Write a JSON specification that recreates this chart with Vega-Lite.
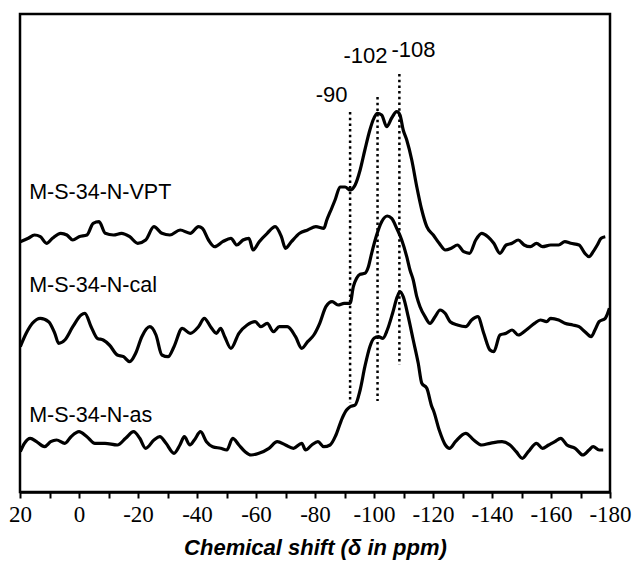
{
  "$schema": "https://vega.github.io/schema/vega-lite/v6.json",
  "width": 590,
  "height": 478,
  "autosize": {"type": "none"},
  "padding": {"left": 20, "top": 14, "right": 22, "bottom": 71},
  "background": "white",
  "config": {
    "view": {"stroke": "black", "strokeWidth": 2.5},
    "axis": {"grid": false}
  },
  "datasets": {
    "spectra": [
      {"s":"VPT","ppm":19.9,"v":250.3},{"s":"VPT","ppm":17.2,"v":253.7},{"s":"VPT","ppm":15.1,"v":257},{"s":"VPT","ppm":13.1,"v":255.3},{"s":"VPT","ppm":11.0,"v":248.7},{"s":"VPT","ppm":9.0,"v":253.7},{"s":"VPT","ppm":6.2,"v":258.7},{"s":"VPT","ppm":4.1,"v":257},{"s":"VPT","ppm":2.1,"v":252},{"s":"VPT","ppm":0.0,"v":255.3},{"s":"VPT","ppm":-2.7,"v":257},{"s":"VPT","ppm":-4.8,"v":268.7},{"s":"VPT","ppm":-6.8,"v":270.3},{"s":"VPT","ppm":-8.9,"v":258.7},{"s":"VPT","ppm":-11.7,"v":257},{"s":"VPT","ppm":-14.4,"v":258.7},{"s":"VPT","ppm":-17.2,"v":255.3},{"s":"VPT","ppm":-19.9,"v":248.7},{"s":"VPT","ppm":-22.6,"v":252},{"s":"VPT","ppm":-25.4,"v":265.3},{"s":"VPT","ppm":-28.1,"v":258.7},{"s":"VPT","ppm":-30.8,"v":257},{"s":"VPT","ppm":-34.3,"v":262},{"s":"VPT","ppm":-37.7,"v":258.7},{"s":"VPT","ppm":-40.5,"v":265.3},{"s":"VPT","ppm":-41.8,"v":263.7},{"s":"VPT","ppm":-43.9,"v":252},{"s":"VPT","ppm":-46.0,"v":245.3},{"s":"VPT","ppm":-48.7,"v":250.3},{"s":"VPT","ppm":-51.5,"v":253.7},{"s":"VPT","ppm":-53.5,"v":247},{"s":"VPT","ppm":-55.6,"v":252},{"s":"VPT","ppm":-57.6,"v":253.7},{"s":"VPT","ppm":-59.0,"v":242},{"s":"VPT","ppm":-61.1,"v":250.3},{"s":"VPT","ppm":-63.8,"v":258.7},{"s":"VPT","ppm":-66.5,"v":265.3},{"s":"VPT","ppm":-68.6,"v":255.3},{"s":"VPT","ppm":-70.0,"v":243.7},{"s":"VPT","ppm":-72.0,"v":250.3},{"s":"VPT","ppm":-74.8,"v":258.7},{"s":"VPT","ppm":-77.5,"v":262},{"s":"VPT","ppm":-80.3,"v":265.3},{"s":"VPT","ppm":-83.0,"v":263.7},{"s":"VPT","ppm":-84.0,"v":272},{"s":"VPT","ppm":-85.7,"v":284},{"s":"VPT","ppm":-86.8,"v":292},{"s":"VPT","ppm":-88.5,"v":305},{"s":"VPT","ppm":-90.2,"v":305},{"s":"VPT","ppm":-91.9,"v":302},{"s":"VPT","ppm":-93.6,"v":307},{"s":"VPT","ppm":-95.3,"v":322},{"s":"VPT","ppm":-96.9,"v":342},{"s":"VPT","ppm":-98.6,"v":362},{"s":"VPT","ppm":-99.7,"v":372},{"s":"VPT","ppm":-101.1,"v":378.7},{"s":"VPT","ppm":-102.6,"v":377},{"s":"VPT","ppm":-104.3,"v":365.3},{"s":"VPT","ppm":-106.0,"v":374},{"s":"VPT","ppm":-107.7,"v":380.3},{"s":"VPT","ppm":-108.8,"v":377},{"s":"VPT","ppm":-109.9,"v":362},{"s":"VPT","ppm":-111.1,"v":352},{"s":"VPT","ppm":-112.8,"v":332},{"s":"VPT","ppm":-114.5,"v":305.3},{"s":"VPT","ppm":-116.2,"v":282},{"s":"VPT","ppm":-117.9,"v":265.3},{"s":"VPT","ppm":-120.1,"v":257},{"s":"VPT","ppm":-122.1,"v":248.7},{"s":"VPT","ppm":-124.2,"v":242},{"s":"VPT","ppm":-126.2,"v":243.7},{"s":"VPT","ppm":-128.3,"v":247},{"s":"VPT","ppm":-130.4,"v":240.3},{"s":"VPT","ppm":-132.4,"v":238.7},{"s":"VPT","ppm":-134.5,"v":252},{"s":"VPT","ppm":-136.5,"v":258.7},{"s":"VPT","ppm":-138.6,"v":255.3},{"s":"VPT","ppm":-140.6,"v":248.7},{"s":"VPT","ppm":-142.7,"v":238.7},{"s":"VPT","ppm":-144.8,"v":247},{"s":"VPT","ppm":-146.8,"v":248.7},{"s":"VPT","ppm":-148.9,"v":252},{"s":"VPT","ppm":-150.9,"v":247},{"s":"VPT","ppm":-153.0,"v":245.3},{"s":"VPT","ppm":-155.1,"v":248.7},{"s":"VPT","ppm":-157.1,"v":245.3},{"s":"VPT","ppm":-159.9,"v":247},{"s":"VPT","ppm":-162.6,"v":247},{"s":"VPT","ppm":-164.7,"v":250.3},{"s":"VPT","ppm":-166.7,"v":248.7},{"s":"VPT","ppm":-169.5,"v":247},{"s":"VPT","ppm":-171.5,"v":238.7},{"s":"VPT","ppm":-172.9,"v":235.3},{"s":"VPT","ppm":-174.3,"v":240.3},{"s":"VPT","ppm":-175.7,"v":247},{"s":"VPT","ppm":-177.0,"v":253.7},{"s":"VPT","ppm":-178.4,"v":255.3},
      {"s":"cal","ppm":19.9,"v":145.3},{"s":"cal","ppm":17.9,"v":158.7},{"s":"cal","ppm":15.8,"v":168.7},{"s":"cal","ppm":13.1,"v":173.7},{"s":"cal","ppm":10.3,"v":170.3},{"s":"cal","ppm":8.2,"v":158.7},{"s":"cal","ppm":6.9,"v":148.7},{"s":"cal","ppm":4.8,"v":152},{"s":"cal","ppm":2.1,"v":165.3},{"s":"cal","ppm":-0.7,"v":177},{"s":"cal","ppm":-2.0,"v":178.7},{"s":"cal","ppm":-4.1,"v":165.3},{"s":"cal","ppm":-6.2,"v":153.7},{"s":"cal","ppm":-8.2,"v":152},{"s":"cal","ppm":-10.3,"v":147},{"s":"cal","ppm":-13.0,"v":137},{"s":"cal","ppm":-15.1,"v":135.3},{"s":"cal","ppm":-17.2,"v":130.3},{"s":"cal","ppm":-19.2,"v":138.7},{"s":"cal","ppm":-21.3,"v":155.3},{"s":"cal","ppm":-24.0,"v":165.3},{"s":"cal","ppm":-26.1,"v":157},{"s":"cal","ppm":-28.1,"v":137},{"s":"cal","ppm":-30.2,"v":135.3},{"s":"cal","ppm":-32.2,"v":145.3},{"s":"cal","ppm":-35.0,"v":163.7},{"s":"cal","ppm":-37.7,"v":158.7},{"s":"cal","ppm":-40.5,"v":165.3},{"s":"cal","ppm":-42.5,"v":173.7},{"s":"cal","ppm":-44.6,"v":165.3},{"s":"cal","ppm":-46.6,"v":158.7},{"s":"cal","ppm":-48.0,"v":163.7},{"s":"cal","ppm":-49.4,"v":155.3},{"s":"cal","ppm":-51.5,"v":143.7},{"s":"cal","ppm":-54.2,"v":158.7},{"s":"cal","ppm":-57.0,"v":167},{"s":"cal","ppm":-59.7,"v":170.3},{"s":"cal","ppm":-61.7,"v":165.3},{"s":"cal","ppm":-63.8,"v":168.7},{"s":"cal","ppm":-65.9,"v":160.3},{"s":"cal","ppm":-67.9,"v":165.3},{"s":"cal","ppm":-70.6,"v":165.3},{"s":"cal","ppm":-73.4,"v":155.3},{"s":"cal","ppm":-75.5,"v":143.7},{"s":"cal","ppm":-77.5,"v":150.3},{"s":"cal","ppm":-79.6,"v":157},{"s":"cal","ppm":-81.6,"v":168.7},{"s":"cal","ppm":-83.7,"v":185.3},{"s":"cal","ppm":-85.8,"v":190.3},{"s":"cal","ppm":-87.8,"v":187},{"s":"cal","ppm":-89.9,"v":188.7},{"s":"cal","ppm":-91.9,"v":188.7},{"s":"cal","ppm":-93.0,"v":205.3},{"s":"cal","ppm":-94.1,"v":213.7},{"s":"cal","ppm":-95.3,"v":217.7},{"s":"cal","ppm":-96.9,"v":218.7},{"s":"cal","ppm":-98.1,"v":225.3},{"s":"cal","ppm":-99.2,"v":238.7},{"s":"cal","ppm":-100.9,"v":257},{"s":"cal","ppm":-102.6,"v":270.3},{"s":"cal","ppm":-104.5,"v":276},{"s":"cal","ppm":-106.0,"v":273.7},{"s":"cal","ppm":-107.7,"v":263.7},{"s":"cal","ppm":-109.4,"v":252},{"s":"cal","ppm":-111.1,"v":235.3},{"s":"cal","ppm":-112.2,"v":222},{"s":"cal","ppm":-113.3,"v":212},{"s":"cal","ppm":-114.5,"v":195.3},{"s":"cal","ppm":-115.6,"v":185.3},{"s":"cal","ppm":-117.3,"v":175.3},{"s":"cal","ppm":-119.0,"v":168.7},{"s":"cal","ppm":-120.7,"v":175.3},{"s":"cal","ppm":-122.4,"v":182},{"s":"cal","ppm":-124.1,"v":178.7},{"s":"cal","ppm":-125.8,"v":170.3},{"s":"cal","ppm":-128.3,"v":167},{"s":"cal","ppm":-131.1,"v":165.3},{"s":"cal","ppm":-133.1,"v":172},{"s":"cal","ppm":-135.2,"v":175.3},{"s":"cal","ppm":-137.2,"v":158.7},{"s":"cal","ppm":-139.3,"v":142},{"s":"cal","ppm":-140.6,"v":140.3},{"s":"cal","ppm":-142.7,"v":157},{"s":"cal","ppm":-144.8,"v":158.7},{"s":"cal","ppm":-146.8,"v":162},{"s":"cal","ppm":-148.9,"v":157},{"s":"cal","ppm":-151.6,"v":162},{"s":"cal","ppm":-154.4,"v":168.7},{"s":"cal","ppm":-156.4,"v":172},{"s":"cal","ppm":-158.5,"v":170.3},{"s":"cal","ppm":-159.9,"v":173.7},{"s":"cal","ppm":-162.6,"v":172},{"s":"cal","ppm":-164.7,"v":168.7},{"s":"cal","ppm":-167.4,"v":167},{"s":"cal","ppm":-169.5,"v":165.3},{"s":"cal","ppm":-171.5,"v":160.3},{"s":"cal","ppm":-173.6,"v":155.3},{"s":"cal","ppm":-174.9,"v":162},{"s":"cal","ppm":-176.3,"v":170.3},{"s":"cal","ppm":-178.4,"v":173.7},{"s":"cal","ppm":-179.8,"v":183.7},
      {"s":"as","ppm":19.9,"v":40.3},{"s":"as","ppm":18.5,"v":48.7},{"s":"as","ppm":16.5,"v":53.7},{"s":"as","ppm":14.4,"v":50.3},{"s":"as","ppm":11.7,"v":45.3},{"s":"as","ppm":9.6,"v":50.3},{"s":"as","ppm":7.6,"v":52},{"s":"as","ppm":4.8,"v":48.7},{"s":"as","ppm":2.7,"v":55.3},{"s":"as","ppm":0.0,"v":60.3},{"s":"as","ppm":-2.7,"v":55.3},{"s":"as","ppm":-5.4,"v":48.7},{"s":"as","ppm":-8.8,"v":48.7},{"s":"as","ppm":-13.0,"v":47},{"s":"as","ppm":-15.8,"v":53.7},{"s":"as","ppm":-18.5,"v":60.3},{"s":"as","ppm":-20.6,"v":53.7},{"s":"as","ppm":-22.6,"v":43.7},{"s":"as","ppm":-25.4,"v":52},{"s":"as","ppm":-27.4,"v":55.3},{"s":"as","ppm":-29.5,"v":48.7},{"s":"as","ppm":-32.2,"v":38.7},{"s":"as","ppm":-34.2,"v":47},{"s":"as","ppm":-35.7,"v":55.3},{"s":"as","ppm":-37.6,"v":47},{"s":"as","ppm":-39.1,"v":52},{"s":"as","ppm":-41.2,"v":60.3},{"s":"as","ppm":-43.2,"v":50.3},{"s":"as","ppm":-45.3,"v":45.3},{"s":"as","ppm":-48.0,"v":43.7},{"s":"as","ppm":-50.1,"v":42},{"s":"as","ppm":-52.1,"v":53.7},{"s":"as","ppm":-54.2,"v":47},{"s":"as","ppm":-56.3,"v":40.3},{"s":"as","ppm":-58.3,"v":37},{"s":"as","ppm":-61.0,"v":38.7},{"s":"as","ppm":-64.4,"v":43.7},{"s":"as","ppm":-67.2,"v":50.3},{"s":"as","ppm":-70.0,"v":47},{"s":"as","ppm":-72.7,"v":43.7},{"s":"as","ppm":-75.5,"v":48.7},{"s":"as","ppm":-76.8,"v":42},{"s":"as","ppm":-78.9,"v":47},{"s":"as","ppm":-81.0,"v":50.3},{"s":"as","ppm":-83.0,"v":45.3},{"s":"as","ppm":-85.1,"v":47},{"s":"as","ppm":-87.1,"v":57},{"s":"as","ppm":-89.2,"v":73.7},{"s":"as","ppm":-90.7,"v":82},{"s":"as","ppm":-91.9,"v":85.3},{"s":"as","ppm":-93.6,"v":87},{"s":"as","ppm":-95.3,"v":102},{"s":"as","ppm":-96.9,"v":125.3},{"s":"as","ppm":-98.6,"v":145.3},{"s":"as","ppm":-100.0,"v":153.7},{"s":"as","ppm":-101.5,"v":155.3},{"s":"as","ppm":-103.0,"v":153.7},{"s":"as","ppm":-104.5,"v":162},{"s":"as","ppm":-106.3,"v":178.7},{"s":"as","ppm":-107.9,"v":195.3},{"s":"as","ppm":-108.8,"v":200.3},{"s":"as","ppm":-109.9,"v":195.3},{"s":"as","ppm":-111.6,"v":175.3},{"s":"as","ppm":-113.3,"v":152},{"s":"as","ppm":-115.0,"v":128.7},{"s":"as","ppm":-116.2,"v":108.7},{"s":"as","ppm":-117.9,"v":103.7},{"s":"as","ppm":-119.6,"v":85.3},{"s":"as","ppm":-120.1,"v":82},{"s":"as","ppm":-122.1,"v":62},{"s":"as","ppm":-124.2,"v":47},{"s":"as","ppm":-125.6,"v":43.7},{"s":"as","ppm":-127.6,"v":50.3},{"s":"as","ppm":-131.1,"v":58.7},{"s":"as","ppm":-133.8,"v":52},{"s":"as","ppm":-136.5,"v":47},{"s":"as","ppm":-139.3,"v":48.7},{"s":"as","ppm":-143.4,"v":50.3},{"s":"as","ppm":-146.1,"v":47},{"s":"as","ppm":-148.2,"v":40.3},{"s":"as","ppm":-150.3,"v":33.7},{"s":"as","ppm":-152.3,"v":40.3},{"s":"as","ppm":-155.1,"v":48.7},{"s":"as","ppm":-157.1,"v":43.7},{"s":"as","ppm":-159.2,"v":47},{"s":"as","ppm":-161.3,"v":50.3},{"s":"as","ppm":-163.3,"v":53.7},{"s":"as","ppm":-165.4,"v":47},{"s":"as","ppm":-168.2,"v":43.7},{"s":"as","ppm":-170.8,"v":37},{"s":"as","ppm":-172.9,"v":42},{"s":"as","ppm":-174.3,"v":45.3},{"s":"as","ppm":-176.3,"v":42},{"s":"as","ppm":-177.7,"v":42}
    ],
    "markers": [
      {"ppm": -91.9, "v": 380, "v2": 89},
      {"ppm": -101.2, "v": 395, "v2": 91},
      {"ppm": -108.6, "v": 418, "v2": 127}
    ],
    "peaks": [
      {"ppm": -85.6, "v": 390, "t": "-90"},
      {"ppm": -97.1, "v": 429, "t": "-102"},
      {"ppm": -113.4, "v": 435, "t": "-108"}
    ],
    "samples": [
      {"ppm": 16.9, "v": 293, "t": "M-S-34-N-VPT"},
      {"ppm": 16.9, "v": 200.5, "t": "M-S-34-N-cal"},
      {"ppm": 16.9, "v": 70.5, "t": "M-S-34-N-as"}
    ]
  },
  "encoding": {
    "x": {
      "field": "ppm",
      "type": "quantitative",
      "scale": {"domain": [20, -180], "nice": false, "zero": false},
      "axis": {
        "values": [20, 10, 0, -10, -20, -30, -40, -50, -60, -70, -80, -90, -100, -110, -120, -130, -140, -150, -160, -170, -180],
        "labelExpr": "datum.value % 20 === 0 ? '' + datum.value : ''",
        "domainColor": "black",
        "domainWidth": 2.5,
        "tickColor": "black",
        "tickWidth": 2,
        "tickSize": 6,
        "labelFont": "Liberation Serif",
        "labelFontSize": 23,
        "labelColor": "black",
        "labelPadding": 5,
        "labelFlush": false,
        "labelOverlap": false,
        "title": "Chemical shift (δ in ppm)",
        "titleFont": "Liberation Sans",
        "titleFontSize": 22,
        "titleFontWeight": "bold",
        "titleFontStyle": "italic",
        "titleColor": "black",
        "titlePadding": 11
      }
    },
    "y": {
      "field": "v",
      "type": "quantitative",
      "scale": {"domain": [0, 478], "nice": false, "zero": false},
      "axis": null
    }
  },
  "layer": [
    {
      "data": {"name": "spectra"},
      "mark": {"type": "line", "color": "black", "strokeWidth": 3.2, "interpolate": "monotone"},
      "encoding": {"detail": {"field": "s"}}
    },
    {
      "data": {"name": "markers"},
      "mark": {"type": "rule", "color": "black", "strokeWidth": 2.5, "strokeDash": [2.5, 3.2]},
      "encoding": {"y2": {"field": "v2"}}
    },
    {
      "data": {"name": "peaks"},
      "mark": {"type": "text", "font": "Liberation Sans", "fontSize": 22, "color": "black", "align": "center", "baseline": "alphabetic"},
      "encoding": {"text": {"field": "t"}}
    },
    {
      "data": {"name": "samples"},
      "mark": {"type": "text", "font": "Liberation Sans", "fontSize": 21.5, "color": "black", "align": "left", "baseline": "alphabetic"},
      "encoding": {"text": {"field": "t"}}
    }
  ]
}
